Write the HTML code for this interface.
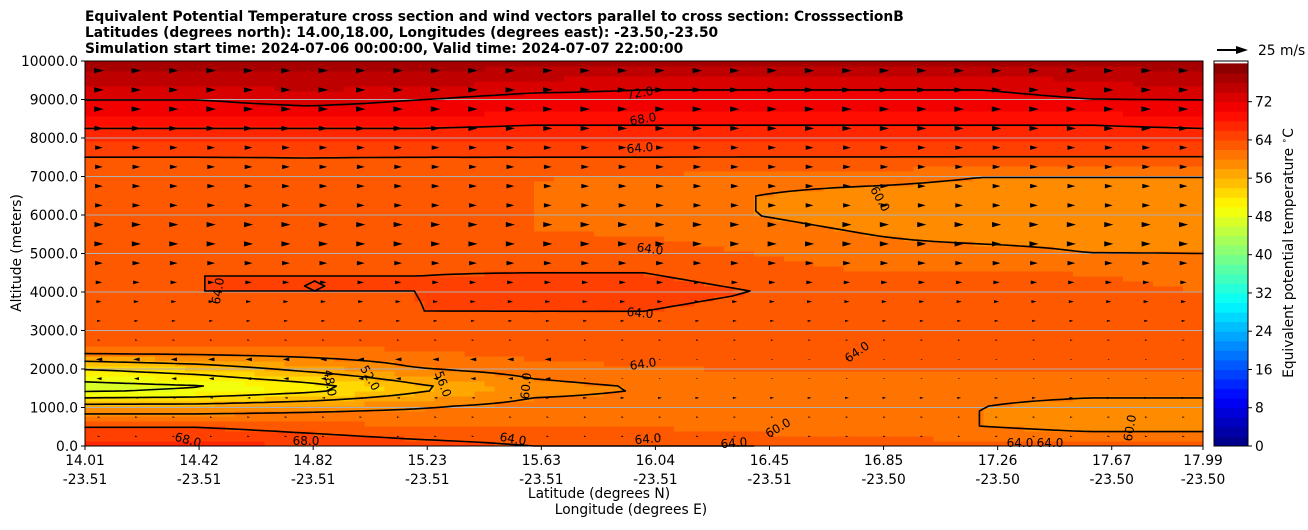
<!DOCTYPE html>
<html><head><meta charset="utf-8"><style>
body{margin:0;background:#fff;width:1308px;height:526px;overflow:hidden;font-family:"DejaVu Sans",sans-serif}
svg text{font-family:"DejaVu Sans",sans-serif}
</style></head><body>
<svg id="chart" width="1308" height="526" xmlns="http://www.w3.org/2000/svg">
<g font-weight="bold" font-size="13.8">
<text x="85" y="21">Equivalent Potential Temperature cross section and wind vectors parallel to cross section: CrosssectionB</text>
<text x="85" y="37">Latitudes (degrees north): 14.00,18.00, Longitudes (degrees east): -23.50,-23.50</text>
<text x="85" y="53">Simulation start time: 2024-07-06 00:00:00, Valid time: 2024-07-07 22:00:00</text>
</g>
<g id="fill" shape-rendering="crispEdges"></g>
<g id="grid"></g>
<g id="lines"></g>
<g id="quiver"></g>
<g id="clabels" font-size="12"></g>
<rect x="85" y="61" width="1118" height="385" fill="none" stroke="#000"/>
<g id="axes" font-size="13.8"></g>
<g id="cbar"></g>
<g><line x1="1217" y1="50" x2="1238" y2="50" stroke="#000" stroke-width="2"/><path d="M1236,46 L1248,50 L1236,54Z" fill="#000"/><text x="1258" y="55" font-size="13.8">25 m/s</text></g>
<text transform="translate(21,253) rotate(-90)" text-anchor="middle" font-size="13.8">Altitude (meters)</text>
<text x="599" y="498" text-anchor="middle" font-size="13.8">Latitude (degrees N)</text>
<text x="631" y="514" text-anchor="middle" font-size="13.8">Longitude (degrees E)</text>
<text transform="translate(1293,253) rotate(-90)" text-anchor="middle" font-size="13.8">Equivalent potential temperature <tspan font-size="9" dy="-6">∘</tspan><tspan dy="6">C</tspan></text>
</svg>
<script>
const latLabels=["14.01","14.42","14.82","15.23","15.63","16.04","16.45","16.85","17.26","17.67","17.99"];
const lonLabels=["-23.51","-23.51","-23.51","-23.51","-23.51","-23.51","-23.51","-23.50","-23.50","-23.50","-23.50"];
const latTickPos=[0,1,2,3,4,5,6,7,8,9,9.8];
const yTicks=[0,1000,2000,3000,4000,5000,6000,7000,8000,9000,10000];
const cbTicks=[0,8,16,24,32,40,48,56,64,72];
const contourLevels=[48,52,56,60,64,68,72];
const thetaRows=[
[67,67,66,65,64,64,64,63,63,63,63],
[64,64,63,62,62,62,61,61,60,59,59],
[58,58,59,60,61,61,61,61,60,59,59],
[46,47,50,55,59,60,61,61,61,61,61],
[52,54,57,60,61,62,62,62,62,62,62],
[62,62,62,62,63,63,63,63,63,63,63],
[63,63,63,63,63,63,63,63,63,63,63],
[63,63,63,64,64,64,63,64,64,64,63],
[64,64,64,64,65,65,64,63,63,63,62],
[63,64,64,64,64,64,63,62,62,62,61],
[63,63,63,63,63,63,62,61,61,60,60],
[62,62,63,63,62,62,61,60,59,59,59],
[62,62,63,63,62,61,60,59,58,58,58],
[62,62,63,63,62,61,60,59,59,59,59],
[62,62,63,62,62,62,61,61,60,60,60],
[64,64,64,64,64,64,64,64,64,64,64],
[66,66,66,66,66,66,66,66,66,66,66],
[70,70,70,70,69,69,69,69,69,69,70],
[72,72,73,72,71,71,71,71,71,72,72],
[75,75,75,75,74,73,73,73,73,74,75],
[77,77,77,77,77,77,77,77,77,77,77]];
const windRowU=[1,1,2,-3,-4,1,2,3,4,5,6,6,5,5,5,5,6,7,8,9];
const NS="http://www.w3.org/2000/svg";
const X0=85,X1=1203,Y0=446,Y1=61;
const xOf=c=>X0+(X1-X0)*c/10; const yOf=a=>Y0+(Y1-Y0)*a/10000;
function jet(t){const c=v=>Math.round(255*Math.max(0,Math.min(1,v)));return `rgb(${c(1.5-Math.abs(4*t-3))},${c(1.5-Math.abs(4*t-2))},${c(1.5-Math.abs(4*t-1))})`;}
const bandColor=v=>{let k=Math.max(0,Math.min(39,Math.floor(v/2)));return jet((k+0.5)/40);};
function val(c,r){const c0=Math.min(9,Math.floor(c)),r0=Math.min(19,Math.floor(r));const fc=c-c0,fr=r-r0;
const a=thetaRows[r0][c0],b=thetaRows[r0][c0+1],d=thetaRows[r0+1][c0],e=thetaRows[r0+1][c0+1];
return a*(1-fc)*(1-fr)+b*fc*(1-fr)+d*(1-fc)*fr+e*fc*fr;}
function mk(p,tag,at){const e=document.createElementNS(NS,tag);for(const k in at)e.setAttribute(k,at[k]);p.appendChild(e);return e;}
const NX=112,NY=77;
const fg=document.getElementById('fill');
const F=[];for(let j=0;j<=NY;j++){F.push([]);for(let i=0;i<=NX;i++)F[j].push(val(10*i/NX,20*j/NY));}
for(let j=0;j<NY;j++)for(let i=0;i<NX;i++){const v=(F[j][i]+F[j][i+1]+F[j+1][i]+F[j+1][i+1])/4;
const x=X0+(X1-X0)*i/NX,w=(X1-X0)/NX,yT=Y0-(Y0-Y1)*(j+1)/NY,h=(Y0-Y1)/NY;
const r=mk(fg,'rect',{x:x,y:yT,width:w+0.6,height:h+0.6,fill:bandColor(v)});

}
const gg=document.getElementById('grid');
yTicks.forEach(t=>{if(t>0&&t<10000){const l=mk(gg,'line',{x1:X0,x2:X1,y1:yOf(t),y2:yOf(t),stroke:'#b0b0b0','stroke-width':1});

}});
const lg=document.getElementById('lines');
const px=i=>X0+(X1-X0)*i/NX, py=j=>Y0-(Y0-Y1)*j/NY;
contourLevels.forEach(L=>{let d='';
for(let j=0;j<NY;j++)for(let i=0;i<NX;i++){const a=F[j][i],b=F[j][i+1],c=F[j+1][i+1],e=F[j+1][i];
const pts=[];const edge=(v1,v2,x1,y1,x2,y2)=>{if((v1<L)!==(v2<L)){const t=(L-v1)/(v2-v1);pts.push([x1+(x2-x1)*t,y1+(y2-y1)*t]);}};
edge(a,b,px(i),py(j),px(i+1),py(j));edge(b,c,px(i+1),py(j),px(i+1),py(j+1));
edge(c,e,px(i+1),py(j+1),px(i),py(j+1));edge(e,a,px(i),py(j+1),px(i),py(j));
for(let k=0;k+1<pts.length;k+=2)d+=`M${pts[k][0].toFixed(1)},${pts[k][1].toFixed(1)}L${pts[k+1][0].toFixed(1)},${pts[k+1][1].toFixed(1)}`;}
const p=mk(lg,'path',{d:d,stroke:'#000','stroke-width':1.6,fill:'none','stroke-linecap':'round'});

});
const qg=document.getElementById('quiver');
for(let r=0;r<windRowU.length;r++){const y=Y0-(r+0.5)*(Y0-Y1)/20;
for(let c=0;c<30;c++){const x=X0+14+c*37.4;let u=windRowU[r];if((r===3||r===4)&&c>12)u=0.5;if(r===2&&c<12)u=-1.5;
const s=Math.min(8,Math.abs(u)*1.1+1),dir=u<0?-1:1;
const a=mk(qg,'path',{d:`M${x-dir*s*0.6},${y-s*0.35}L${x+dir*s*0.6},${y}L${x-dir*s*0.6},${y+s*0.35}Z`,fill:'#000'});

}}
const cl=document.getElementById('clabels');
[["72.0",640,97,-10],["68.0",643,123,-10],["64.0",640,152,-5],["60.0",880,203,60],["64.0",650,253,8],["64.0",218,295,-80],["64.0",640,317,5],["64.0",643,368,-8],["64.0",857,356,-35],["48.0",330,387,80],["52.0",370,382,60],["56.0",443,388,70],["60.0",526,390,-85],["68.0",188,444,15],["68.0",306,445,0],["64.0",513,443,10],["64.0",648,443,-5],["64.0",734,447,-5],["60.0",778,432,-30],["64.0",1020,447,0],["64.0",1050,447,0],["60.0",1130,432,-80]].forEach(t=>{
const e=mk(cl,'text',{x:t[1],y:t[2],'text-anchor':'middle',transform:`rotate(${t[3]},${t[1]},${t[2]-4})`});e.textContent=t[0];

});
const ax=document.getElementById('axes');
yTicks.forEach(t=>{const y=yOf(t);mk(ax,'line',{x1:X0-4,x2:X0,y1:y,y2:y,stroke:'#000'});
const e=mk(ax,'text',{x:X0-7,y:y+5,'text-anchor':'end'});e.textContent=t.toFixed(1);

});
latLabels.forEach((l,i)=>{const x=xOf(latTickPos[i]*10/9.8);mk(ax,'line',{x1:x,x2:x,y1:Y0,y2:Y0+4,stroke:'#000'});
const e=mk(ax,'text',{x:x,y:465,'text-anchor':'middle'});e.textContent=l;


const f=mk(ax,'text',{x:x,y:484,'text-anchor':'middle'});f.textContent=lonLabels[i];

});
const cb=document.getElementById('cbar');const CX=1214,CW=34,CMAX=80.5;
for(let k=0;k<40;k++){const yb=Y0-(Y0-Y1)*(2*k)/CMAX,yt=Y0-(Y0-Y1)*(2*k+2)/CMAX;
mk(cb,'rect',{x:CX,y:Math.max(Y1,yt),width:CW,height:yb-Math.max(Y1,yt)+0.5,fill:jet((k+0.5)/40)});}
mk(cb,'rect',{x:CX,y:Y1,width:CW,height:Y0-Y1,fill:'none',stroke:'#000'});
cbTicks.forEach(t=>{const y=Y0-(Y0-Y1)*t/CMAX;mk(cb,'line',{x1:CX+CW,x2:CX+CW+4,y1:y,y2:y,stroke:'#000'});
const e=mk(cb,'text',{x:CX+CW+7,y:y+5,'font-size':13.8});e.textContent=t;

});
</script>
</body></html>
